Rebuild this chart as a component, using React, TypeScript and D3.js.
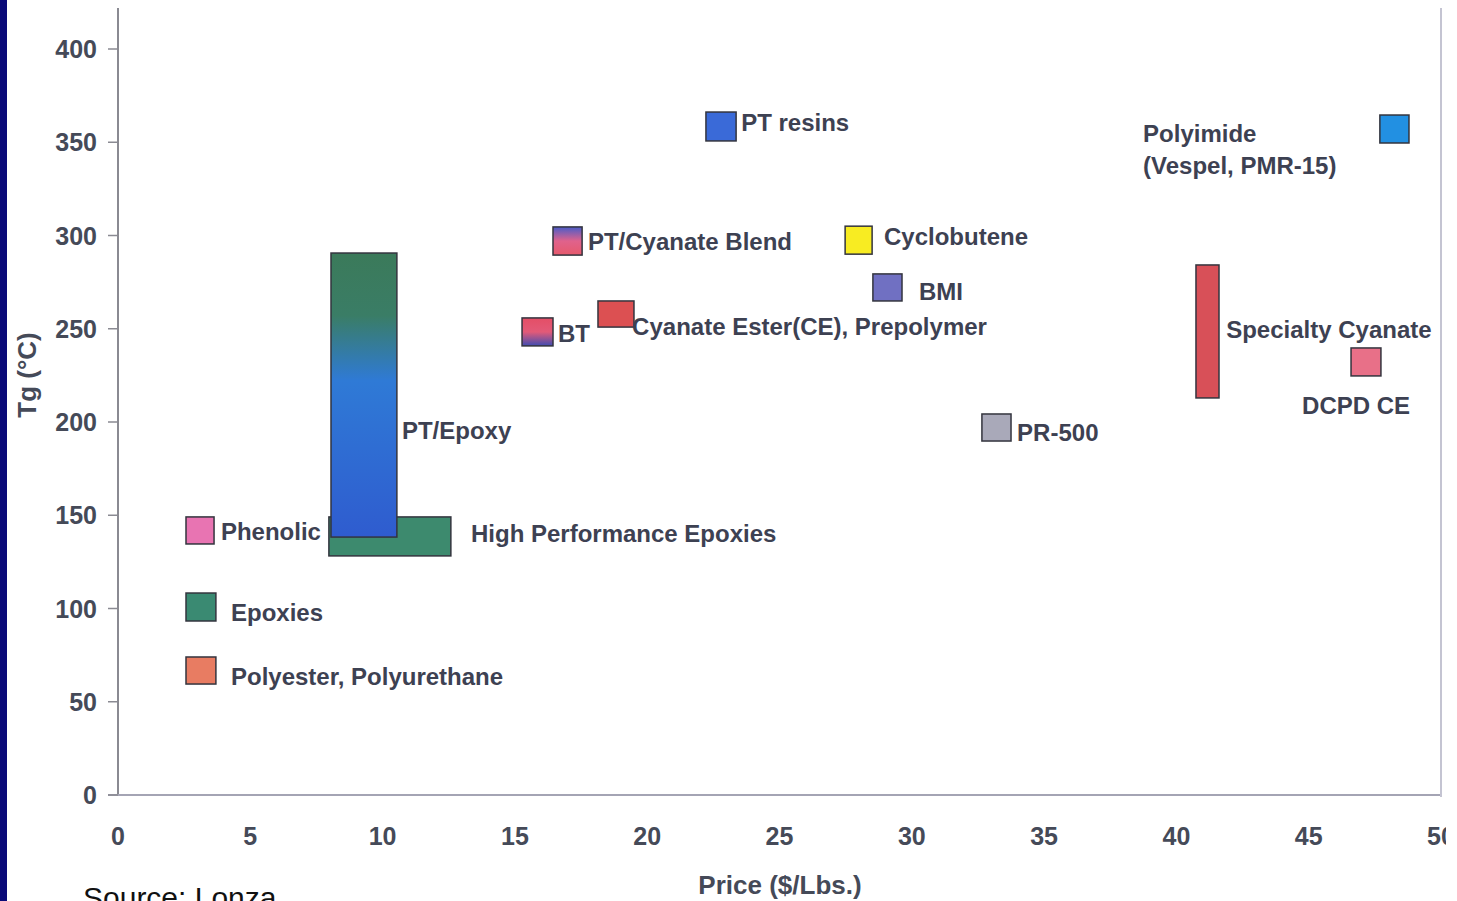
import React from 'react';
import * as d3 from 'd3';

// canvas
const width = 1457;
const height = 901;

// plot area
const left = 118;
const right = 1441;
const top = 49;
const bottom = 795;

// data: price range ($/Lbs.) and Tg range (°C) of each resin box
const resins = ['High Performance Epoxies', 'PT/Epoxy', 'Phenolic', 'Epoxies', 'Polyester, Polyurethane',
  'BT', 'Cyanate Ester(CE), Prepolymer', 'PT/Cyanate Blend', 'PT resins', 'Cyclobutene', 'BMI',
  'PR-500', 'Specialty Cyanate', 'DCPD CE', 'Polyimide'];
const priceLow = [7.97, 8.05, 2.57, 2.57, 2.57, 15.27, 18.14, 16.44, 22.22, 27.48, 28.53, 32.65, 40.74, 46.6, 47.69];
const priceHigh = [12.58, 10.54, 3.63, 3.7, 3.7, 16.44, 19.5, 17.54, 23.36, 28.5, 29.63, 33.75, 41.61, 47.73, 48.79];
const tgLow = [128.2, 138.3, 134.6, 93.3, 59.5, 240.8, 250.9, 289.5, 350.7, 290, 264.9, 189.8, 212.9, 224.7, 349.6];
const tgHigh = [149.1, 290.6, 149.1, 108.3, 74, 255.8, 264.9, 304.6, 366.2, 305, 279.4, 204.3, 284.2, 239.7, 364.6];
const fills = ['#3d8a6e', 'url(#gPtEpoxy)', '#e874b2', '#3a8a72', '#e87c62', 'url(#gBT)', '#dc5052',
  'url(#gPtCyan)', '#3a6ad8', '#f8ec22', '#7070c2', '#a9a9b9', '#d85058', '#e87088', '#2290e2'];

// label anchors (price, Tg) for each text line
const labelText = ['High Performance Epoxies', 'PT/Epoxy', 'Phenolic', 'Epoxies', 'Polyester, Polyurethane',
  'BT', 'Cyanate Ester(CE), Prepolymer', 'PT/Cyanate Blend', 'PT resins', 'Cyclobutene', 'BMI',
  'PR-500', 'Specialty Cyanate', 'DCPD CE', 'Polyimide', '(Vespel, PMR-15)'];
const labelPrice = [13.34, 10.73, 3.89, 4.27, 4.27, 16.63, 19.43, 17.76, 23.55, 28.95, 30.27, 33.98, 41.88, 44.75, 38.74, 38.74];
const labelTg = [140.2, 195.3, 141.3, 98.1, 63.8, 247.3, 251.2, 296.6, 360.6, 299.5, 270.0, 194.2, 249.9, 209.1, 354.7, 337.5];

const yTicks = [0, 50, 100, 150, 200, 250, 300, 350, 400];
const xTicks = [0, 5, 10, 15, 20, 25, 30, 35, 40, 45, 50];

const x = d3.scaleLinear().domain([0, 50]).range([left, right]);
const y = d3.scaleLinear().domain([0, 400]).range([bottom, top]);

const textColor = '#3d4152';
const font = '"Liberation Sans", Arial, sans-serif';

const App = () => (
  <svg width={width} height={height} style={{ position: 'absolute', left: 0, top: 0 }}
    fontFamily={font}>
    <defs>
      <linearGradient id="gPtEpoxy" x1="0" y1="0" x2="0" y2="1">
        <stop offset="0" stopColor="#3b7a5a" />
        <stop offset="0.22" stopColor="#3a7d66" />
        <stop offset="0.45" stopColor="#2f7ad6" />
        <stop offset="1" stopColor="#2f5ccf" />
      </linearGradient>
      <linearGradient id="gBT" x1="0" y1="0" x2="0" y2="1">
        <stop offset="0" stopColor="#e44e66" />
        <stop offset="0.5" stopColor="#e25a78" />
        <stop offset="1" stopColor="#3f4cb2" />
      </linearGradient>
      <linearGradient id="gPtCyan" x1="0" y1="0" x2="0" y2="1">
        <stop offset="0" stopColor="#4a5cc8" />
        <stop offset="0.5" stopColor="#e0628c" />
        <stop offset="1" stopColor="#e65a6c" />
      </linearGradient>
      <clipPath id="page">
        <rect x={0} y={0} width={1446} height={height} />
      </clipPath>
    </defs>
    <rect width={width} height={height} fill="#ffffff" />
    <g clipPath="url(#page)">
      {/* axes */}
      <line x1={left} x2={left} y1={8} y2={bottom} stroke="#8a8a92" strokeWidth={2} />
      <line x1={left - 10} x2={right} y1={bottom} y2={bottom} stroke="#a4a4b4" strokeWidth={2} />
      <line x1={right} x2={right} y1={8} y2={bottom + 2} stroke="#c4c4d2" strokeWidth={2} />
      {yTicks.map((t) => (
        <g key={t}>
          <line x1={left - 10} x2={left} y1={y(t)} y2={y(t)} stroke="#8a8a92" strokeWidth={1.5} />
          <text x={97} y={y(t)} dy="0.36em" textAnchor="end" fontSize={25} fontWeight="bold" fill="#454a58">{t}</text>
        </g>
      ))}
      {xTicks.map((t) => (
        <text key={t} x={x(t)} y={836} dy="0.36em" textAnchor="middle" fontSize={25} fontWeight="bold" fill="#454a58">{t}</text>
      ))}
      <text transform="translate(27,375) rotate(-90)" dy="0.36em" textAnchor="middle" fontSize={26} fontWeight="bold" fill="#454a58">Tg (°C)</text>
      <text x={780} y={885} dy="0.36em" textAnchor="middle" fontSize={26} fontWeight="bold" fill="#454a58">Price ($/Lbs.)</text>

      {/* resin boxes */}
      {resins.map((r, i) => (
        <rect key={r} x={x(priceLow[i])} y={y(tgHigh[i])}
          width={x(priceHigh[i]) - x(priceLow[i])} height={y(tgLow[i]) - y(tgHigh[i])}
          fill={fills[i]} stroke="#33343e" strokeWidth={1.5} />
      ))}

      {/* labels */}
      {labelText.map((t, i) => (
        <text key={t} x={x(labelPrice[i])} y={y(labelTg[i])} dy="0.36em" fontSize={24} fontWeight="bold" fill={textColor}>{t}</text>
      ))}

      <text x={83} y={908} fontSize={30} fill="#111">Source: Lonza</text>
    </g>
    <rect x={0} y={0} width={7} height={height} fill="#0a0a78" />
  </svg>
);

export default App;
